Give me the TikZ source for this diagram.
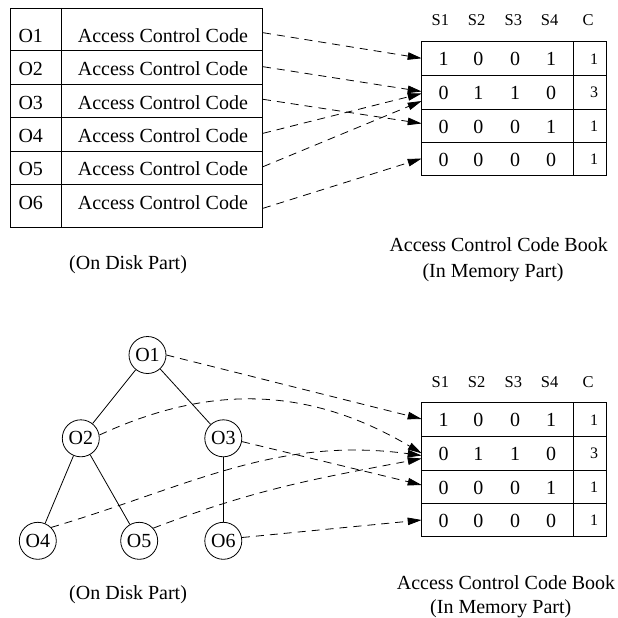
\documentclass[tikz,border=0pt]{standalone}
\usepackage{fontspec}
\setmainfont{Liberation Serif}
\usetikzlibrary{arrows.meta}

\tikzset{
  txt/.style={inner sep=0pt, font=\fontsize{20}{24}\selectfont},
  hdr/.style={inner sep=0pt, font=\fontsize{16.5}{20}\selectfont},
  cnt/.style={inner sep=0pt, font=\fontsize{16}{19}\selectfont},
  frame/.style={draw, line width=0.8pt},
  divider/.style={draw, line width=1.5pt},
  edge/.style={draw, line width=0.8pt},
  obj/.style={circle, draw, line width=0.8pt, minimum size=37pt, inner sep=0pt,
              font=\fontsize{20}{24}\selectfont},
  link/.style={draw, line width=0.8pt, dash pattern=on 8pt off 6pt,
               -{Triangle[length=14pt,width=7.5pt]}},
}

% access control code book: 4 subjects plus a count column
\newcommand\codebook{%
  \draw[frame] (421.7,41.7) rectangle (606.7,175.7);
  \foreach \y in {75.7,109,142.7} \draw[frame] (421.7,\y) -- (606.7,\y);
  \draw[divider] (573.3,41.7) -- (573.3,175.7);
  \foreach \h/\x in {S1/440.3,S2/476.7,S3/513.3,S4/549.7,C/588}
    \node[hdr, anchor=base] (h\h) at (\x,26) {\h};
  \foreach \r/\y/\a/\b/\c/\d/\n in {1/58.7/1/0/0/1/1, 2/92.3/0/1/1/0/3,
                                   3/126/0/0/0/1/1, 4/159.2/0/0/0/0/1} {
    \node[txt, anchor=base] (c\r-1) at (443.5,\y+7.2) {\a};
    \node[txt, anchor=base] (c\r-2) at (478.3,\y+7.2) {\b};
    \node[txt, anchor=base] (c\r-3) at (515,\y+7.2) {\c};
    \node[txt, anchor=base] (c\r-4) at (551,\y+7.2) {\d};
    \node[cnt, anchor=base] (c\r-n) at (594,\y+5.4) {\n};
  }%
}

\begin{document}
\begin{tikzpicture}[x=1pt, y=-1pt]
\useasboundingbox (0,0) rectangle (618,618);

% ---------- upper part: object table on disk ----------
\draw[frame] (10,8) rectangle (262,227);
\draw[frame] (61,8) -- (61,227);
\foreach \y in {50,84,117,151,184} \draw[frame] (10,\y) -- (262,\y);
\foreach \i/\y in {1/42.3,2/75,3/109,4/142.7,5/175.7,6/209.3} {
  \node[txt, anchor=base west] (id\i) at (18.3,\y) {O\i};
  \node[txt, anchor=base west] (acc\i) at (77.7,\y) {Access Control Code};
}
\node[txt, anchor=base west] (diskA) at (69,269.3) {(On Disk Part)};

\begin{scope}[name prefix=top-]
  \codebook
\end{scope}
\node[txt, anchor=base west] (bookA) at (389.3,251.7) {Access Control Code Book};
\node[txt, anchor=base west] (memA) at (422.3,277) {(In Memory Part)};

% start points at the table edge, end points at the code book edge
\coordinate (s1) at (263,32.7);
\coordinate (s2) at (263,66.7);
\coordinate (s3) at (263,99.3);
\coordinate (s4) at (263,133.3);
\coordinate (s5) at (263,166.7);
\coordinate (s6) at (263,208.3);
\coordinate (t1) at (421.7,58.3);
\coordinate (t2a) at (421.7,91.5);
\coordinate (t2b) at (421.7,93.5);
\coordinate (t2c) at (421.7,101);
\coordinate (t3) at (421.7,123.5);
\coordinate (t4) at (421.7,158.5);

\draw[link] (s1) -- (t1);
\draw[link] (s2) -- (t2a);
\draw[link] (s3) -- (t3);
\draw[link] (s4) -- (t2b);
\draw[link] (s5) -- (t2c);
\draw[link] (s6) -- (t4);

% ---------- lower part: object tree on disk ----------
\node[obj] (n1) at (147.5,355) {O1};
\node[obj] (n2) at (80.8,438.3) {O2};
\node[obj] (n3) at (223.3,438.3) {O3};
\node[obj] (n4) at (37.8,540.8) {O4};
\node[obj] (n5) at (139.2,540.8) {O5};
\node[obj] (n6) at (223.3,540.8) {O6};
\draw[edge] (n1) -- (n2);
\draw[edge] (n1) -- (n3);
\draw[edge] (n2) -- (n4);
\draw[edge] (n2) -- (n5);
\draw[edge] (n3) -- (n6);
\node[txt, anchor=base west] (diskB) at (69,599.3) {(On Disk Part)};

\begin{scope}[shift={(0,361)}, name prefix=bot-]
  \codebook
\end{scope}
\node[txt, anchor=base west] (bookB) at (396.7,589.3) {Access Control Code Book};
\node[txt, anchor=base west] (memB) at (430,613.3) {(In Memory Part)};

\coordinate (b1) at (421.7,419);
\coordinate (b2a) at (421.7,453.3);
\coordinate (b2b) at (421.7,455.5);
\coordinate (b2c) at (421.7,458.5);
\coordinate (b3) at (421.7,485);
\coordinate (b4) at (421.7,520);

\draw[link] (n1.east) -- (b1);
\draw[link] (n2.10) .. controls (214.2,381.8) and (312.6,388.7) .. (b2a);
\draw[link] (n3.-10) -- (b3);
\draw[link] (n4.45) .. controls (190,486) and (276,436) .. (b2b);
\draw[link] (n5.42) .. controls (257.3,488.4) and (316.3,478.6) .. (b2c);
\draw[link] (n6.10) -- (b4);
\end{tikzpicture}
\end{document}
